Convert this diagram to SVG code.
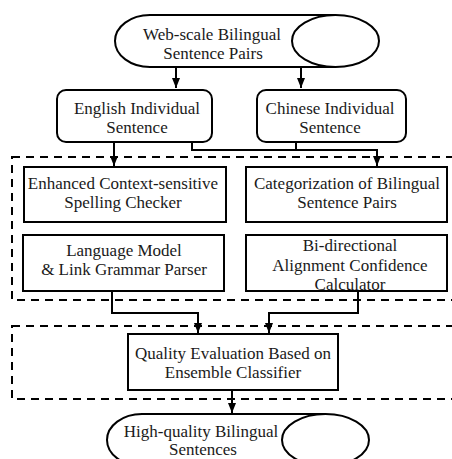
<svg xmlns="http://www.w3.org/2000/svg" width="452" height="459" viewBox="0 0 452 459">
<defs>
<marker id="arr" viewBox="0 0 10 10" refX="10" refY="5" markerWidth="10" markerHeight="10" markerUnits="userSpaceOnUse" orient="auto">
<path d="M0,1 L10,5 L0,9 Z" fill="#000"/>
</marker>
<style>
.box{fill:#fff;stroke:#000;stroke-width:2}
.dash{fill:none;stroke:#000;stroke-width:2;stroke-dasharray:8 6}
.ln{fill:none;stroke:#000;stroke-width:2}
text{font-family:"Liberation Serif","Times New Roman",serif;font-size:17px;fill:#1a1a1a;text-anchor:middle}
</style>
</defs>
<rect width="452" height="459" fill="#fff"/>
<g id="groups">
<rect class="dash" x="12" y="157" width="460" height="143"/>
<rect class="dash" x="12" y="326" width="460" height="73"/>
</g>
<g id="connectors">
<path class="ln" d="M176,67 V88" marker-end="url(#arr)"/>
<path class="ln" d="M301,67 V88" marker-end="url(#arr)"/>
<path class="ln" d="M114,142 V166" marker-end="url(#arr)"/>
<path class="ln" d="M192,142 V150 H377 V166" marker-end="url(#arr)"/>
<path class="ln" d="M296,142 V150"/>
<path class="ln" d="M112,291 V313 H198 V333" marker-end="url(#arr)"/>
<path class="ln" d="M358,291 V313 H269 V333" marker-end="url(#arr)"/>
<path class="ln" d="M232,390 V413" marker-end="url(#arr)"/>
</g>
<g id="web-scale">
<path class="box" d="M335.5,15 H150 A35,26 0 0 0 150,67 H335.5"/>
<ellipse class="box" cx="335.5" cy="41" rx="43.5" ry="26"/>
<text x="212" y="40">Web-scale Bilingual</text>
<text x="213" y="59">Sentence Pairs</text>
</g>
<g id="english">
<rect class="box" x="57" y="90" width="155" height="52" rx="9"/>
<text x="137" y="114">English Individual</text>
<text x="137" y="133">Sentence</text>
</g>
<g id="chinese">
<rect class="box" x="257" y="90" width="149" height="52" rx="9"/>
<text x="330" y="114">Chinese Individual</text>
<text x="330" y="133">Sentence</text>
</g>
<g id="spelling">
<rect class="box" x="24" y="167" width="202" height="55"/>
<text x="123" y="189">Enhanced Context-sensitive</text>
<text x="123" y="208">Spelling Checker</text>
</g>
<g id="categorization">
<rect class="box" x="246" y="167" width="201" height="55"/>
<text x="347" y="189">Categorization of Bilingual</text>
<text x="347" y="208">Sentence Pairs</text>
</g>
<g id="language-model">
<rect class="box" x="23" y="235" width="201" height="56"/>
<text x="124" y="256">Language Model</text>
<text x="124" y="275">&amp; Link Grammar Parser</text>
</g>
<g id="alignment">
<rect class="box" x="246" y="235" width="201" height="56"/>
<text x="350" y="251">Bi-directional</text>
<text x="350" y="271">Alignment Confidence</text>
<text x="350" y="290">Calculator</text>
</g>
<g id="quality">
<rect class="box" x="128" y="334" width="210" height="56"/>
<text x="233" y="359">Quality Evaluation Based on</text>
<text x="233" y="378">Ensemble Classifier</text>
</g>
<g id="high-quality">
<path class="box" d="M325.5,414 H142 A35,26 0 0 0 142,466 H325.5"/>
<ellipse class="box" cx="325.5" cy="440" rx="43.5" ry="26"/>
<text x="201" y="437">High-quality Bilingual</text>
<text x="203" y="455">Sentences</text>
</g>
</svg>
